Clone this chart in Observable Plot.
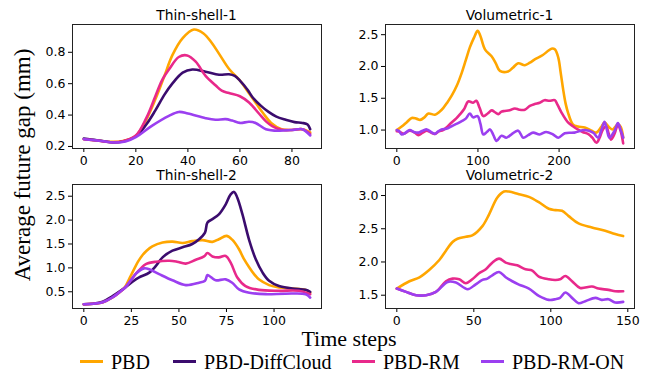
<!DOCTYPE html>
<html><head><meta charset="utf-8">
<script src="https://cdn.jsdelivr.net/npm/d3@7"></script>
<script src="https://cdn.jsdelivr.net/npm/@observablehq/plot@0.6"></script>
<style>
body{margin:0;background:#fff}
#fig{position:relative;width:658px;height:379px;overflow:hidden;background:#fff}
.panel{position:absolute}
.title{position:absolute;font-family:"DejaVu Sans";font-size:13.8px;line-height:13px;transform:translate(-50%,-50%);white-space:nowrap;color:#000}
.serif{position:absolute;font-family:"Liberation Serif";white-space:nowrap;color:#000;line-height:1}
.sw{position:absolute;width:23px;height:3px}
</style></head>
<body><div id="fig"></div>
<script>
// ---- data ----
const seriesNames = ["PBD","PBD-DiffCloud","PBD-RM","PBD-RM-ON"];
const seriesColors = ["#ffa600","#3b0c6e","#e8298b","#9b3ff0"];
const panelTitles = ["Thin-shell-1","Volumetric-1","Thin-shell-2","Volumetric-2"];

const thin1_PBD = [[0,0.246],[5,0.238],[11,0.229],[15,0.235],[20,0.267],[24,0.37],[27.5,0.50],[31,0.65],[34,0.78],[38,0.89],[42.3,0.945],[46,0.92],[49,0.864],[52,0.79],[56,0.69],[60,0.62],[63,0.55],[66,0.48],[69,0.41],[72,0.35],[76,0.31],[80,0.305],[84,0.31],[87,0.29]];
const thin1_DiffCloud = [[0,0.25],[5,0.24],[11,0.226],[15,0.232],[20,0.265],[24,0.34],[27.5,0.43],[31,0.53],[34,0.6],[38,0.67],[41.7,0.69],[46.8,0.676],[52,0.657],[55.8,0.66],[58,0.65],[60,0.62],[63,0.56],[65,0.51],[68,0.46],[71,0.42],[74,0.39],[77.6,0.37],[81,0.355],[84,0.35],[86,0.34],[87,0.31]];
const thin1_RM = [[0,0.246],[5,0.238],[11,0.227],[15,0.233],[20,0.27],[24,0.38],[27.5,0.52],[30,0.62],[32.7,0.69],[36.5,0.77],[39.7,0.78],[43,0.74],[46.8,0.65],[50.6,0.59],[53,0.555],[55.8,0.54],[60,0.52],[63.5,0.48],[67.3,0.41],[70,0.36],[72.4,0.33],[76,0.306],[80,0.305],[84,0.31],[87,0.28]];
const thin1_RMON = [[0,0.246],[5,0.238],[12,0.225],[16,0.232],[20,0.26],[26,0.33],[32.7,0.395],[36.5,0.42],[40,0.41],[46.8,0.38],[50.6,0.37],[54.5,0.374],[57,0.365],[60,0.35],[63.5,0.357],[66,0.35],[70,0.31],[75,0.30],[80,0.305],[84,0.31],[87,0.27]];

const vol1_PBD = [[0,1.0],[6,1.055],[12,1.12],[18.4,1.19],[24,1.18],[28.7,1.16],[34,1.2],[39,1.26],[47,1.24],[52,1.28],[57.4,1.35],[62,1.43],[67.6,1.54],[74,1.7],[80,1.90],[85,2.1],[90,2.30],[95,2.45],[99.6,2.56],[103,2.48],[108.6,2.27],[116.8,2.16],[122,2.05],[127,1.93],[137,1.92],[143,1.98],[149.6,2.05],[157.8,2.02],[164,2.06],[170,2.11],[180,2.18],[190.6,2.28],[194.7,2.27],[199,2.14],[202,1.9],[205,1.64],[208,1.42],[211,1.275],[217,1.09],[223,1.055],[231.6,1.04],[240,0.99],[246,0.96],[252,1.05],[256,1.12],[262,1.04],[266,1.01],[272.5,1.09],[276,1.05],[279,0.88]];
const vol1_RM = [[0,0.98],[4,0.97],[8,0.94],[16,0.99],[22,0.96],[26.6,0.92],[32,0.96],[37,0.99],[42,0.96],[47,0.94],[52,0.98],[57,1.0],[62,1.05],[67.6,1.12],[73,1.18],[78,1.25],[83,1.33],[88,1.45],[94,1.43],[98,1.46],[102,1.35],[106.6,1.22],[112,1.26],[117,1.31],[121,1.28],[125,1.25],[129,1.29],[133,1.30],[139,1.31],[145.5,1.34],[151,1.32],[157.8,1.32],[164,1.38],[170,1.41],[176,1.43],[182,1.47],[188,1.46],[194.7,1.47],[198,1.4],[203,1.275],[211,1.12],[217,1.06],[223,1.01],[229,0.97],[235.7,0.94],[241,0.88],[246,0.80],[250,0.88],[254,1.01],[258,1.06],[261,0.95],[264,0.85],[268,0.93],[272.5,1.08],[276,0.98],[279,0.79]];
const vol1_RMON = [[0,1.0],[3,0.98],[6,0.93],[10,0.95],[16,1.0],[21,0.97],[26.6,0.96],[32,0.99],[37,1.01],[42,0.97],[47,0.94],[51,0.98],[55,1.01],[61,1.02],[67.6,1.06],[74,1.1],[80,1.14],[85,1.18],[90,1.26],[94,1.2],[99.6,1.22],[103,1.1],[106.6,0.93],[111,0.97],[115,1.01],[119,0.92],[123,0.83],[129,0.91],[135,0.88],[141,0.93],[149.6,0.99],[155.7,0.88],[162,0.92],[168,0.96],[176,0.93],[184,0.97],[192.6,0.93],[199,0.88],[207,0.95],[219,0.96],[231.6,1.0],[242,0.96],[248,0.88],[252,1.0],[256,1.13],[259,1.0],[262,0.88],[268.4,0.99],[272.5,1.11],[276,1.0],[279,0.88]];

const thin2_PBD = [[0,0.24],[5,0.25],[10,0.28],[15,0.38],[20,0.53],[22,0.62],[24,0.78],[26.5,0.98],[28.5,1.13],[30.9,1.27],[33,1.36],[36,1.45],[41.4,1.53],[46.6,1.55],[51.9,1.52],[57,1.56],[62.4,1.58],[67.6,1.545],[71,1.60],[75,1.67],[78,1.59],[81.6,1.39],[84,1.2],[87,1.01],[89.5,0.87],[92,0.76],[97.4,0.64],[102.6,0.59],[109.6,0.57],[116.6,0.54],[119,0.48]];
const thin2_DiffCloud = [[0,0.24],[5,0.25],[9.9,0.29],[15.1,0.41],[20.4,0.55],[25.6,0.71],[29.1,0.80],[34.4,0.90],[37.9,1.04],[41.4,1.22],[46.6,1.36],[51.9,1.43],[57,1.50],[60.6,1.60],[63.7,1.74],[65,1.95],[67.6,2.02],[71,2.12],[74.6,2.33],[77.2,2.54],[79,2.59],[80.7,2.47],[83.4,2.12],[87,1.57],[90.4,1.18],[94,0.90],[97.4,0.73],[102.6,0.62],[109.6,0.57],[116.6,0.54],[119,0.50]];
const thin2_RM = [[0,0.24],[5,0.25],[10,0.28],[15,0.38],[20,0.53],[22,0.6],[24.5,0.73],[27.4,0.88],[30,0.99],[32.6,1.08],[38,1.13],[44.9,1.15],[49,1.13],[53.6,1.09],[58.9,1.17],[63.2,1.24],[65,1.31],[67.6,1.24],[71,1.22],[74.6,1.25],[77.2,1.11],[80.7,0.80],[85,0.62],[92,0.54],[102.6,0.52],[113,0.52],[119,0.45]];
const thin2_RMON = [[0,0.24],[5,0.25],[10,0.28],[15,0.38],[20,0.53],[22,0.6],[24.5,0.73],[27.4,0.88],[31.7,0.99],[35,0.96],[39.6,0.87],[46.6,0.74],[53.6,0.64],[60.6,0.69],[63.7,0.73],[65,0.85],[67,0.8],[69.3,0.74],[74.6,0.76],[78,0.69],[81.6,0.55],[87,0.48],[95.6,0.45],[106,0.46],[116.6,0.45],[119,0.38]];

const vol2_PBD = [[0,1.60],[8.2,1.71],[14.7,1.77],[21,1.88],[27.6,2.03],[31.9,2.17],[36.2,2.30],[39.4,2.35],[44.8,2.38],[49,2.40],[55.6,2.54],[60,2.72],[65.3,2.97],[69.6,3.06],[72.8,3.06],[79.3,3.02],[85.8,2.98],[92.2,2.90],[98.7,2.80],[103,2.78],[107.3,2.77],[111.6,2.69],[118,2.58],[126.7,2.52],[135.3,2.47],[141.8,2.42],[147,2.39]];
const vol2_RM = [[0,1.60],[6,1.55],[12.5,1.50],[19,1.50],[25.4,1.55],[31.9,1.71],[36.2,1.75],[40.5,1.74],[44.8,1.68],[49,1.74],[53.4,1.83],[57.8,1.89],[62,1.99],[66.4,2.05],[70.7,1.99],[73.9,1.97],[78.2,1.95],[83.6,1.89],[88,1.87],[92.2,1.78],[98.7,1.74],[103,1.73],[106,1.74],[109.5,1.79],[113.8,1.71],[119,1.61],[126.7,1.63],[131,1.60],[137.5,1.58],[141.8,1.56],[147,1.56]];
const vol2_RMON = [[0,1.60],[6,1.55],[12.5,1.50],[19,1.50],[25.4,1.55],[33,1.70],[38.4,1.69],[46,1.59],[51,1.66],[55.6,1.73],[58.8,1.75],[62,1.80],[66.4,1.85],[70.7,1.77],[75,1.71],[79.3,1.66],[85.8,1.60],[92.2,1.49],[98.7,1.43],[103,1.44],[106,1.46],[109.5,1.54],[113.8,1.46],[118,1.38],[122.4,1.41],[128.9,1.46],[133,1.43],[137.5,1.44],[141.8,1.39],[147,1.40]];

const thin1_xTicks = [0,20,40,60,80], thin1_yTicks = [0.2,0.4,0.6,0.8];
const vol1_xTicks = [0,100,200], vol1_yTicks = [1.0,1.5,2.0,2.5];
const thin2_xTicks = [0,25,50,75,100], thin2_yTicks = [0.5,1.0,1.5,2.0,2.5];
const vol2_xTicks = [0,50,100,150], vol2_yTicks = [1.5,2.0,2.5,3.0];

// ---- layout ----
const fig = document.getElementById("fig");
function addPanel(title, lines, o) {
  const chart = Plot.plot({
    width: o.w, height: 170,
    marginLeft: o.ml, marginRight: o.mr, marginTop: 24, marginBottom: 22,
    style: {fontFamily: "DejaVu Sans", fontSize: "12.5px", color: "#000", background: "transparent", overflow: "visible"},
    x: {domain: o.xd, ticks: o.xt, tickFormat: "d", label: null, tickSize: 4, tickPadding: 3.5},
    y: {domain: o.yd, ticks: o.yt, tickFormat: ".1f", label: null, tickSize: 4, tickPadding: 3},
    marks: [
      ...lines.map(([data, idx]) => Plot.line(data, {x: d => d[0], y: d => d[1], stroke: seriesColors[idx], strokeWidth: 2.6, curve: "catmull-rom", clip: true})),
      Plot.frame({stroke: "#222", strokeWidth: 1})
    ]
  });
  chart.classList.add("panel");
  chart.style.left = o.left + "px"; chart.style.top = o.top + "px";
  fig.appendChild(chart);
  const t = document.createElement("div");
  t.className = "title"; t.textContent = title;
  t.style.left = (o.left + o.ml + (o.w - o.ml - o.mr) / 2) + "px";
  t.style.top = (o.top + 15) + "px";
  fig.appendChild(t);
}
addPanel(panelTitles[0], [[thin1_PBD,0],[thin1_DiffCloud,1],[thin1_RM,2],[thin1_RMON,3]],
  {left:0, top:0, w:330, ml:72, mr:9, xd:[-4.35,91.35], yd:[0.187,0.977], xt:thin1_xTicks, yt:thin1_yTicks});
addPanel(panelTitles[1], [[vol1_PBD,0],[vol1_RM,2],[vol1_RMON,3]],
  {left:330, top:0, w:328, ml:55, mr:24, xd:[-13.95,292.95], yd:[0.71,2.66], xt:vol1_xTicks, yt:vol1_yTicks});
addPanel(panelTitles[2], [[thin2_PBD,0],[thin2_DiffCloud,1],[thin2_RM,2],[thin2_RMON,3]],
  {left:0, top:160, w:330, ml:72, mr:9, xd:[-5.95,124.95], yd:[0.15,2.745], xt:thin2_xTicks, yt:thin2_yTicks});
addPanel(panelTitles[3], [[vol2_PBD,0],[vol2_RM,2],[vol2_RMON,3]],
  {left:330, top:160, w:328, ml:55, mr:24, xd:[-7.35,154.35], yd:[1.30,3.166], xt:vol2_xTicks, yt:vol2_yTicks});

// axis labels
const yl = document.createElement("div");
yl.className = "serif"; yl.textContent = "Average future gap (mm)";
yl.style.fontSize = "23px"; yl.style.left = "22px"; yl.style.top = "165px";
yl.style.transform = "translate(-50%,-50%) rotate(-90deg)";
fig.appendChild(yl);
const xl = document.createElement("div");
xl.className = "serif"; xl.textContent = "Time steps";
xl.style.fontSize = "22px"; xl.style.left = "349px"; xl.style.top = "339px";
xl.style.transform = "translate(-50%,-50%)";
fig.appendChild(xl);

// legend
const legendX = [80, 173, 352, 481];
seriesNames.forEach((name, i) => {
  const sw = document.createElement("div");
  sw.className = "sw"; sw.style.background = seriesColors[i];
  sw.style.left = legendX[i] + "px"; sw.style.top = "360px";
  fig.appendChild(sw);
  const tx = document.createElement("div");
  tx.className = "serif"; tx.textContent = name; tx.style.fontSize = "20px";
  tx.style.left = (legendX[i] + 31) + "px"; tx.style.top = "362px";
  tx.style.transform = "translate(0,-50%)";
  fig.appendChild(tx);
});
</script></body></html>
